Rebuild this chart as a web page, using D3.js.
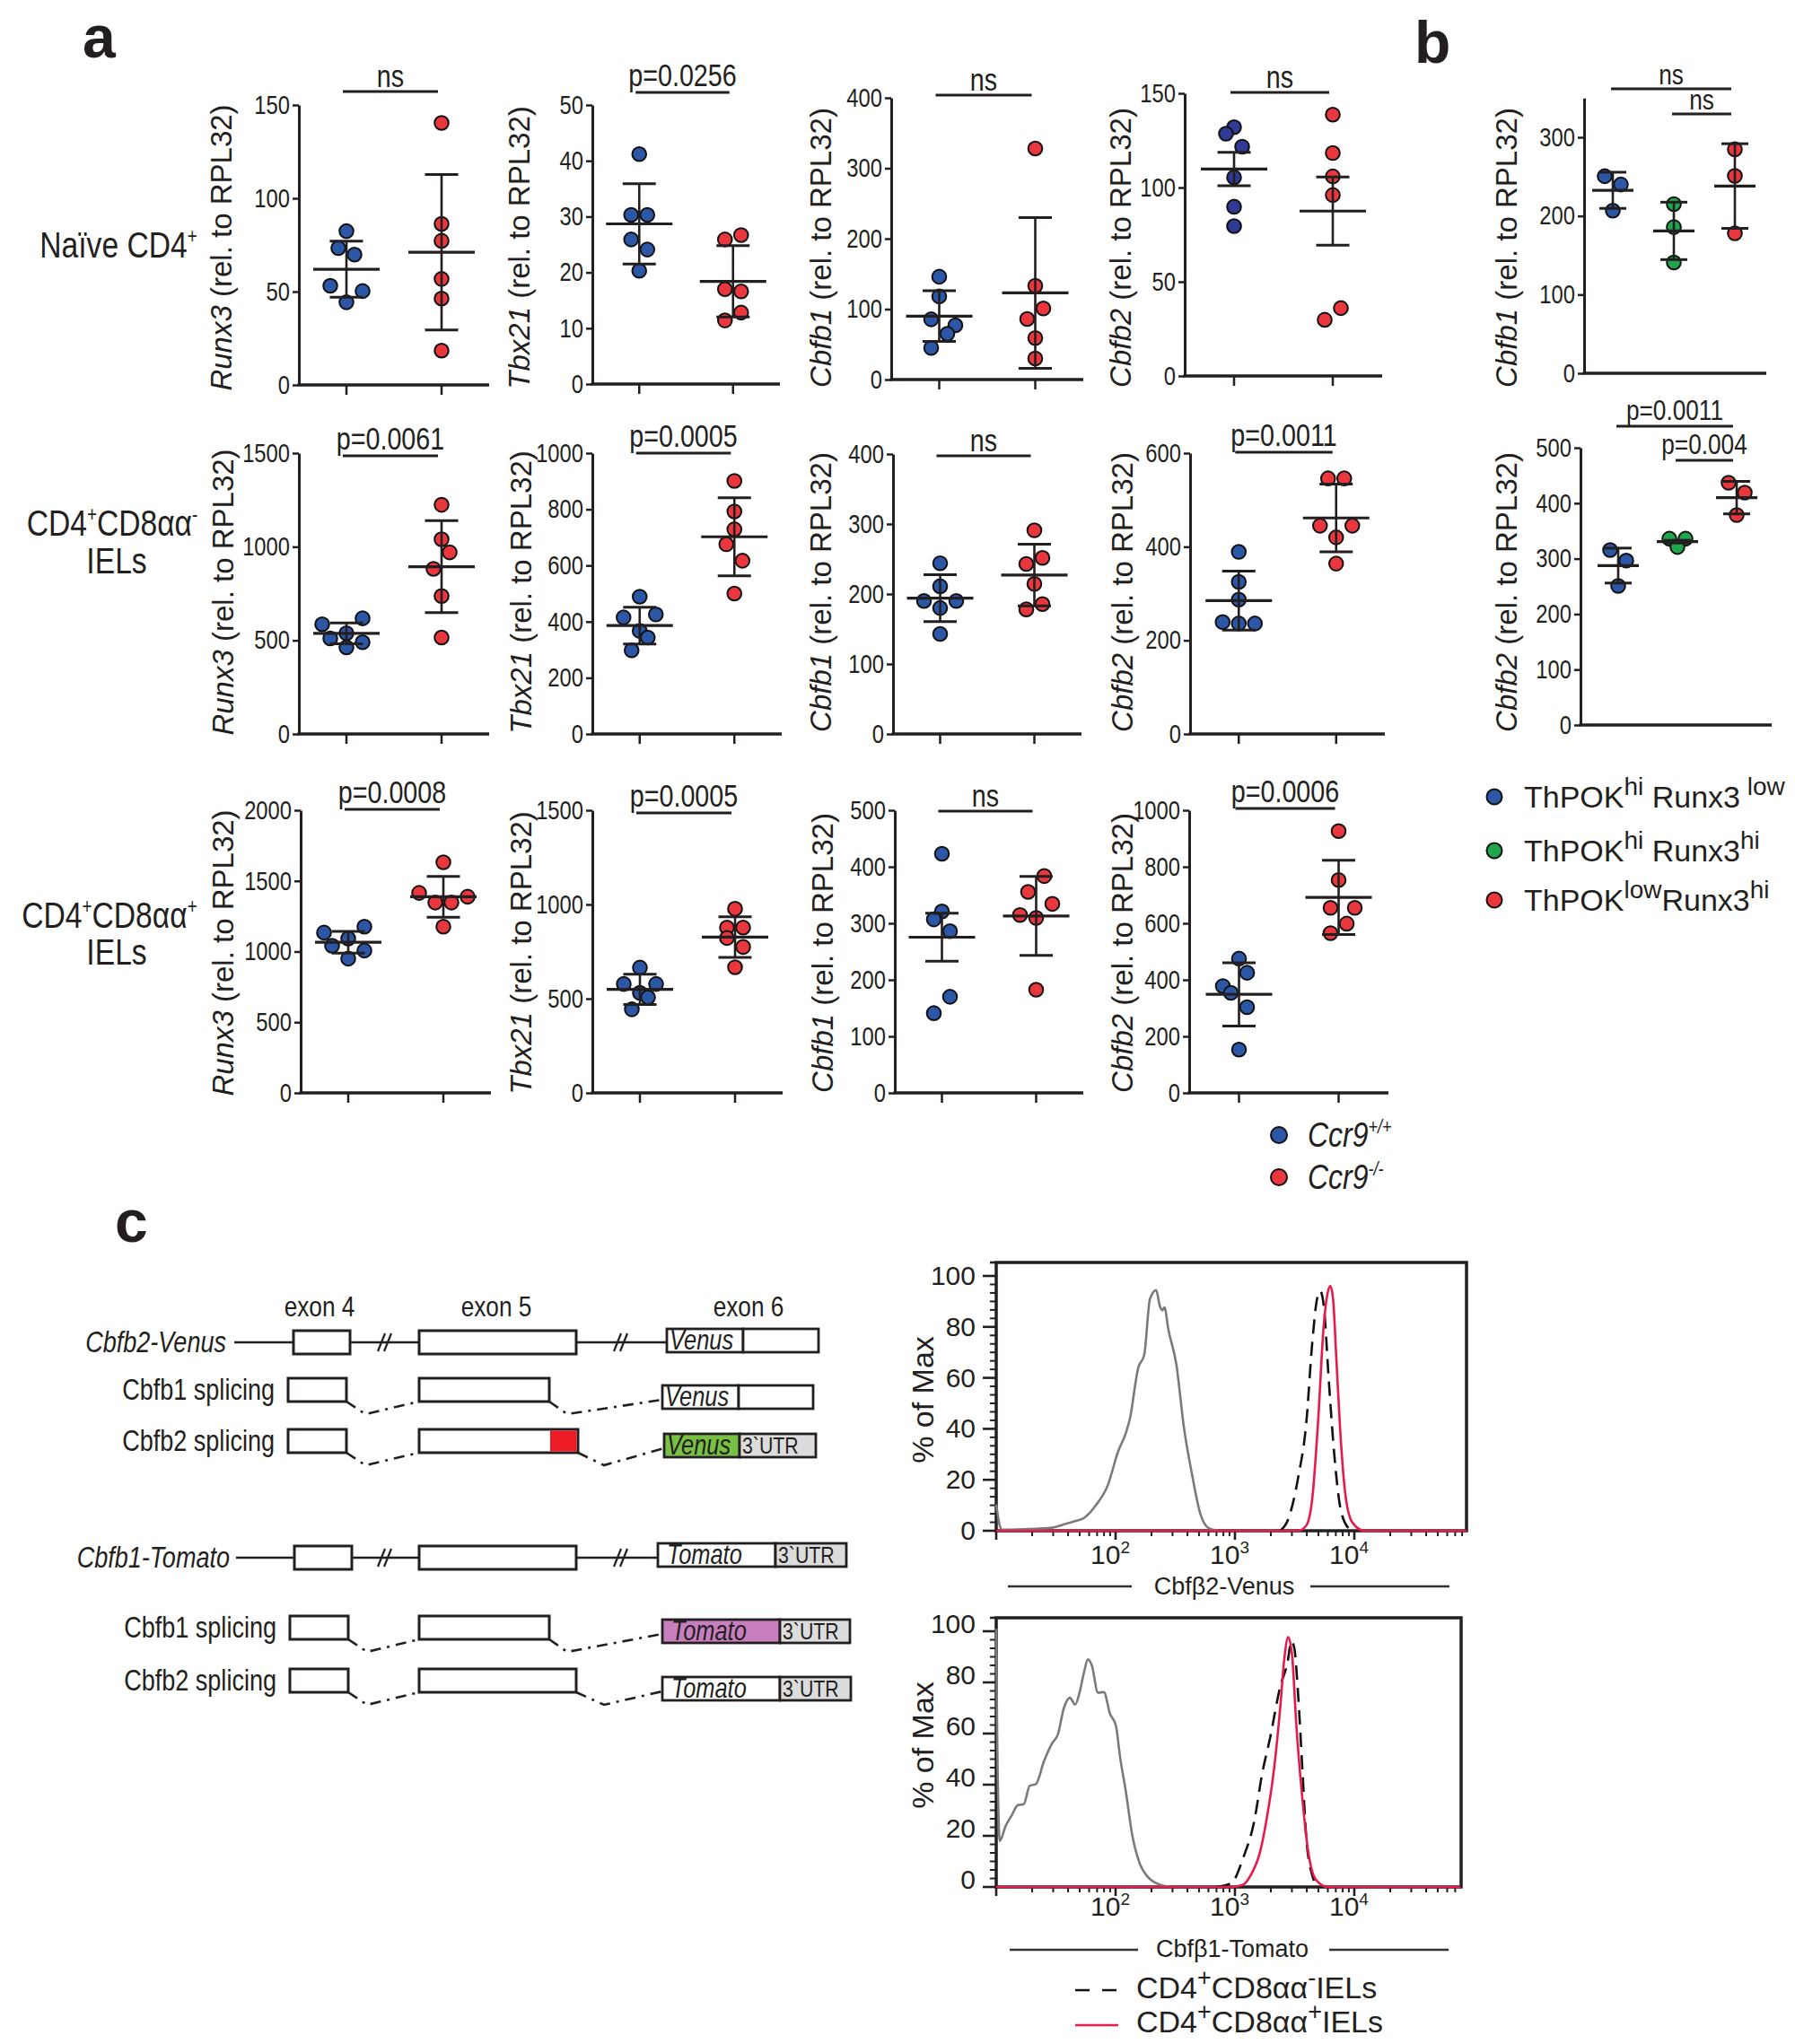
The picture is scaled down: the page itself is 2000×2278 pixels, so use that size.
<!DOCTYPE html>
<html><head><meta charset="utf-8">
<script src="https://cdn.jsdelivr.net/npm/d3@7"></script>
<style>body{margin:0;background:#fff}</style>
</head><body><div id="chart"></div>
<script>
// ================= DATA =================
// Panel a: qPCR, Ccr9+/+ (blue) vs Ccr9-/- (red); rows = cell types, cols = genes
const genes = ["Runx3", "Tbx21", "Cbfb1", "Cbfb2"];
const yMaxes = [[150, 50, 400, 150], [1500, 1000, 400, 600], [2000, 1500, 500, 1000]];
const tickSteps = [[50, 10, 100, 50], [500, 200, 100, 200], [500, 500, 100, 200]];
const pLabels = ["ns", "p=0.0256", "ns", "ns", "p=0.0061", "p=0.0005", "ns", "p=0.0011", "p=0.0008", "p=0.0005", "ns", "p=0.0006"];
const wtVals = [
  [82.4, 73.3, 69.8, 53.1, 50.3, 44.3], [41.2, 30.3, 30.3, 25.9, 24.1, 20.3], [146, 118, 85.5, 77, 65, 45], [132, 128.6, 121.7, 105.4, 89.8, 79.5],
  [617.5, 585.6, 537.7, 510.6, 490, 462.7], [489, 425.5, 415, 367, 343.6, 298], [244, 211, 190, 190, 180, 143], [389, 325, 287, 239, 236, 236],
  [1176, 1134, 1092, 1041, 1007, 950], [665, 578, 578, 530.6, 507, 443.5], [423, 321, 307, 286, 170, 141], [475, 425, 378, 354, 303, 153]
];
const koVals = [
  [140.4, 86.3, 77.2, 56.8, 46.3, 18.4], [26.7, 25.9, 17.0, 16.6, 12.8, 11.4], [328, 133, 101, 86, 59, 30], [138.7, 118.3, 105.9, 96, 36, 29.8],
  [1224, 1040, 970, 882, 737, 515], [901, 792.5, 728.7, 675.5, 617, 500], [291, 251.6, 243, 214.5, 185.5, 178], [546, 546, 445, 445, 420, 364],
  [1632, 1415, 1388, 1347, 1347, 1176], [977, 877.6, 877.6, 822, 774.6, 667], [383.6, 355.6, 334.4, 314.8, 309.5, 182.5], [926, 753, 654.7, 654.7, 598.7, 565]
];
const wtMean = [62.0, 28.7, 90, 109.8, 537.7, 386, 194, 285, 1066.5, 549.6, 275.4, 348.5];
const wtErr  = [15.0, 7.2, 36, 8.9, 55.8, 65.5, 33.5, 63, 77, 80, 42.4, 112];
const koMean = [71.1, 18.4, 123, 87.5, 893.6, 702, 227, 461.5, 1387.5, 826.9, 313, 691.7];
const koErr  = [41.6, 6.4, 107, 18.1, 246, 139, 44, 72.5, 145, 107.8, 69.8, 131];

// Panel b: Cbfb1 / Cbfb2 in three populations
const bGroups = ["ThPOKhi Runx3low", "ThPOKhi Runx3hi", "ThPOKlow Runx3hi"];
const bGenes = ["Cbfb1", "Cbfb2"];
const bMax = [350, 500];
const bTickMax = [300, 500];
const bVals = [
  [[250.5, 240, 206.7], [215, 185.8, 140.8], [284.7, 251, 178]],
  [[315.5, 296.6, 250.8], [336, 336, 321], [437, 419, 378.6]]
];
const bMean = [[232.6, 181, 238], [287.5, 330.6, 410]];
const bErr  = [[23, 36.5, 53.8], [31.5, 2.5, 29.3]];
const bPLabels = [["ns", "ns"], ["p=0.0011", "p=0.004"]];

// Panel c: flow histograms, [log10 intensity, % of max]
const flow1Grey = [[1.0,10.3],[1.03,2],[1.05,0.4],[1.23,0.6],[1.466,1.2],[1.583,2.7],[1.667,3.9],[1.735,5],[1.835,10],[1.936,18],[2.02,31],[2.087,38.5],[2.12,44],[2.19,64],[2.24,69],[2.288,91],[2.34,94.4],[2.372,88],[2.392,86.5],[2.41,87.7],[2.44,79.5],[2.51,65],[2.574,40],[2.641,22],[2.708,7],[2.775,1.2],[2.86,0]];
const flow1Neg = [[3.379,0],[3.446,4.5],[3.53,21],[3.597,42],[3.648,74],[3.688,91],[3.715,94],[3.748,86.5],[3.782,62],[3.832,30],[3.883,9],[3.95,1],[3.983,0]];
const flow1Pos = [[1.0,0],[3.53,0],[3.597,2],[3.648,12.7],[3.698,44],[3.742,79.5],[3.775,93],[3.799,96],[3.822,91],[3.849,68],[3.883,38.5],[3.923,15],[3.983,3.3],[4.084,0],[4.94,0]];
const flow2Grey = [[1.0,101],[1.008,60],[1.03,18],[1.08,24],[1.13,28],[1.181,32],[1.231,32.4],[1.281,39.6],[1.332,40.2],[1.399,49],[1.466,56],[1.516,59.6],[1.567,70],[1.617,74],[1.661,71.3],[1.701,76.6],[1.734,83.6],[1.768,89],[1.802,86.5],[1.852,76],[1.902,76.2],[1.953,67.8],[2.003,63],[2.037,51],[2.087,37],[2.137,21],[2.204,9],[2.271,3.9],[2.372,0.9],[2.473,0]];
const flow2Neg = [[2.842,0],[2.97,1.5],[3.07,11.5],[3.161,25.6],[3.228,44.3],[3.295,58.4],[3.379,78.3],[3.44,87.7],[3.473,96.1],[3.497,93.5],[3.53,74.8],[3.564,46.7],[3.597,19.7],[3.648,4.5],[3.698,0]];
const flow2Pos = [[1.0,0],[2.97,0],[3.07,0.9],[3.131,4.5],[3.211,13.8],[3.262,25.6],[3.329,46.7],[3.379,70],[3.413,88.9],[3.446,97.7],[3.48,90],[3.513,64.2],[3.564,35],[3.614,13.8],[3.681,2.7],[3.782,0],[4.89,0]];
const flowYTicks = [0, 20, 40, 60, 80, 100];
const flowXTickExp = [2, 3, 4];
const flowTitles = ["Cbfβ2-Venus", "Cbfβ1-Tomato"];
const exonLabels = ["exon 4", "exon 5", "exon 6"];

// ================= LAYOUT / STYLE =================
const SANS = "'Liberation Sans',Arial,Helvetica,sans-serif";
const SX = 0.82; // horizontal squeeze to imitate a condensed face
const INK = "#231f20";
const BLUE = "#2c56a6", RED = "#e9373d", GREEN = "#1ea64d";
// point jitter slots (layout only)
const wtSlot = [[0,-1,1,-2,2,0],[0,-1,1,-1,1,0],[0,0,-1,2,1,-1],[0,-1,1,0,0,0],
                [2,-3,0,-2,2,0],[0,2,-2,0,1,-1],[0,0,-2,2,0,0],[0,0,0,-2,0,2],
                [2,-3,0,-2,2,0],[0,-2,2,0,1,-1],[0,0,-1,1,1,-1],[0,1,-2,-1,1,0]];
const koSlot = [[0,0,0,0,0,0],[1,-1,-1,1,1,-1],[0,0,1,-1,0,0],[0,0,0,0,1,-1],
                [0,0,1,-1,0,0],[0,0,0,-1,1,0],[0,1,-1,0,1,-1],[-1,1,-2,2,0,0],
                [0,-3,3,-1,1,0],[0,-1,1,-1,1,0],[1,-1,2,-2,0,0],[0,0,-1,2,1,-1]];
const bSlot = [[[-1,1,0],[0,0,0],[0,0,0]],[[-1,1,0],[-1,1,0],[-1,1,0]]];
// [axisX, axisEndX, yTopOfMaxTick, yZero, titleX, bracketY]
const aFrames = [
  [333,545,117,429,258,102],[660,869,117,428,590,103],[993,1207,109,423,926,106],[1320,1540,104,419,1260,103],
  [333,545,505,818,260,508],[660,871,505,818,592,505],[995,1205,506,818,926,508],[1326,1543,505,818,1262,504],
  [335,547,903,1218,260,902],[660,872,903,1218,592,906],[997,1207,903,1218,928,904],[1325,1547,903,1218,1262,901]
];
const rowTitleY = [276, 660, 1062];

const W = 2000, H = 2278;
const svg = d3.select("#chart").append("svg").attr("width", W).attr("height", H)
  .style("font-family", SANS);
svg.append("rect").attr("width", W).attr("height", H).attr("fill", "#fff");

// condensed text helper
function ntext(parent, x, y, fs, anchor) {
  return parent.append("text").attr("transform", `translate(${x},${y}) scale(${SX},1)`)
    .attr("font-size", fs).attr("fill", INK).attr("text-anchor", anchor || "start").attr("font-family", SANS);
}
function addParts(t, parts, fs, supFs) {
  let shifted = false;
  parts.forEach(([s, sup]) => {
    const ts = t.append("tspan").text(s);
    if (sup && !shifted) { ts.attr("font-size", supFs).attr("dy", -fs * 0.4); shifted = true; }
    else if (!sup && shifted) { ts.attr("dy", fs * 0.4); shifted = false; }
    else if (sup) ts.attr("font-size", supFs);
  });
  return t;
}

// panel letters
[["a", 92, 64], ["b", 1576, 70], ["c", 128, 1384]].forEach(([t, x, y]) =>
  svg.append("text").attr("x", x).attr("y", y).attr("font-size", 66).attr("font-weight", "bold")
    .attr("fill", INK).text(t));

function styleAxis(sel, fs, off) {
  sel.select(".domain").attr("stroke", INK).attr("stroke-width", 3);
  sel.selectAll(".tick line").attr("stroke", INK).attr("stroke-width", 2.5);
  sel.selectAll(".tick text").attr("fill", INK).attr("font-family", SANS).attr("font-size", fs)
    .attr("transform", `scale(${SX},1)`).attr("x", -off / SX);
}

function yTitle(g, x, yc, gene) {
  const t = g.append("text").attr("transform", `translate(${x},${yc}) rotate(-90)`)
    .attr("text-anchor", "middle").attr("font-size", 33).attr("fill", INK).attr("font-family", SANS);
  t.append("tspan").attr("font-style", "italic").text(gene);
  t.append("tspan").text(" (rel. to RPL32)");
}

function bracket(g, x1, x2, yL, label, fs) {
  g.append("line").attr("x1", x1).attr("x2", x2).attr("y1", yL).attr("y2", yL)
    .attr("stroke", INK).attr("stroke-width", 3);
  ntext(g, (x1 + x2) / 2, yL - (label === "ns" ? 5 : 7), fs || 35, "middle").text(label);
}

function meanSd(g, cx, m, e, y, wm, wc) {
  g.append("line").attr("x1", cx).attr("x2", cx).attr("y1", y(m - e)).attr("y2", y(m + e))
    .attr("stroke", INK).attr("stroke-width", 2.6);
  [m - e, m + e].forEach(v => g.append("line").attr("x1", cx - wc).attr("x2", cx + wc)
    .attr("y1", y(v)).attr("y2", y(v)).attr("stroke", INK).attr("stroke-width", 3));
  g.append("line").attr("x1", cx - wm).attr("x2", cx + wm).attr("y1", y(m)).attr("y2", y(m))
    .attr("stroke", INK).attr("stroke-width", 3.2);
}

function dots(g, cx, vals, slots, y, color) {
  g.selectAll(null).data(vals).join("circle")
    .attr("cx", (d, i) => cx + slots[i] * 9).attr("cy", d => y(d)).attr("r", 7.8)
    .attr("fill", color).attr("stroke", "#111").attr("stroke-width", 2);
}

// ---------- Panel a ----------
for (let i = 0; i < 12; i++) {
  const row = Math.floor(i / 4), col = i % 4;
  const [ax, ex, yT, y0, tx, by] = aFrames[i];
  const max = yMaxes[row][col], step = tickSteps[row][col];
  const g = svg.append("g");
  const y = d3.scaleLinear().domain([0, max]).range([y0, yT]);
  const x = d3.scalePoint().domain(["wt", "ko"]).range([ax, ex]).padding(0.5);
  const yA = g.append("g").attr("transform", `translate(${ax},0)`)
    .call(d3.axisLeft(y).tickValues(d3.range(0, max + 1e-9, step)).tickFormat(d3.format("d"))
      .tickSize(7).tickSizeOuter(0).tickPadding(3));
  styleAxis(yA, 29, 10);
  g.append("line").attr("x1", ax - 1.5).attr("x2", ex).attr("y1", y0).attr("y2", y0)
    .attr("stroke", INK).attr("stroke-width", 3.5);
  x.domain().forEach(k => g.append("line").attr("x1", x(k)).attr("x2", x(k)).attr("y1", y0)
    .attr("y2", y0 + 11).attr("stroke", INK).attr("stroke-width", 2.5));
  dots(g, x("wt"), wtVals[i], wtSlot[i], y, col === 3 && row === 0 ? "#2e3a94" : BLUE);
  dots(g, x("ko"), koVals[i], koSlot[i], y, RED);
  meanSd(g, x("wt"), wtMean[i], wtErr[i], y, 37, 18.5);
  meanSd(g, x("ko"), koMean[i], koErr[i], y, 37, 18.5);
  bracket(g, x("wt") - 4, x("ko") - 4, by, pLabels[i]);
  yTitle(g, tx, rowTitleY[row], genes[col]);
}

// row labels
addParts(ntext(svg, 132, 287, 41, "middle"), [["Naïve CD4"], ["+", 1]], 41, 23);
addParts(ntext(svg, 125, 597, 41, "middle"), [["CD4"], ["+", 1], ["CD8αα"], ["-", 1]], 41, 23);
addParts(ntext(svg, 130, 639, 41, "middle"), [["IELs"]], 41, 23);
addParts(ntext(svg, 122, 1034, 41, "middle"), [["CD4"], ["+", 1], ["CD8αα"], ["+", 1]], 41, 23);
addParts(ntext(svg, 130, 1075, 41, "middle"), [["IELs"]], 41, 23);

// Ccr9 legend
[[BLUE, 1265, "+/+"], [RED, 1312, "-/-"]].forEach(([c, yy, s]) => {
  svg.append("circle").attr("cx", 1425).attr("cy", yy).attr("r", 9).attr("fill", c)
    .attr("stroke", "#111").attr("stroke-width", 2);
  const t = ntext(svg, 1457, yy + 13, 39).attr("font-style", "italic");
  t.append("tspan").text("Ccr9");
  t.append("tspan").attr("font-size", 22).attr("dy", -15).text(s);
});

// ---------- Panel b ----------
const bFrames = [[1765, 1968, 416, 1690, 276, [1797, 1933]], [1761, 1974, 808, 1690, 660, [1803, 1935]]];
const bYScale = [[416, 153, 300], [808, 499, 500]]; // y0, y(ref), ref
const bColors = [BLUE, GREEN, RED];
const bBrackets = [[[0, 2, 99], [1, 2, 127]], [[0, 2, 475], [1, 2, 513]]];
bGenes.forEach((gene, k) => {
  const [ax, ex, y0, tx, tyc, xr] = bFrames[k];
  const [yz, yr, ref] = bYScale[k];
  const g = svg.append("g");
  const y = d3.scaleLinear().domain([0, ref]).range([yz, yr]);
  const yTop = y(bMax[k]);
  y.domain([0, bMax[k]]).range([yz, yTop]);
  const x = d3.scalePoint().domain(bGroups).range(xr);
  const yA = g.append("g").attr("transform", `translate(${ax},0)`)
    .call(d3.axisLeft(y).tickValues(d3.range(0, bTickMax[k] + 1, 100)).tickFormat(d3.format("d"))
      .tickSize(7).tickSizeOuter(0).tickPadding(3));
  styleAxis(yA, 29, 10);
  g.append("line").attr("x1", ax - 1.5).attr("x2", ex).attr("y1", yz).attr("y2", yz)
    .attr("stroke", INK).attr("stroke-width", 3.5);
  bGroups.forEach((grp, j) => dots(g, x(grp), bVals[k][j], bSlot[k][j], y, bColors[j]));
  bGroups.forEach((grp, j) => meanSd(g, x(grp), bMean[k][j], bErr[k][j], y, 23, 15));
  bBrackets[k].forEach(([a, b, yl], n) => bracket(g, x(bGroups[a]) - 2, x(bGroups[b]) - 4, yl, bPLabels[k][n], 32));
  yTitle(g, tx, tyc, gene);
});
// panel b legend
const bLegParts = [
  [["ThPOK"], ["hi", 1], [" Runx3"], [" low", 1]],
  [["ThPOK"], ["hi", 1], [" Runx3"], ["hi", 1]],
  [["ThPOK"], ["low", 1], ["Runx3"], ["hi", 1]]
];
[888, 948, 1003].forEach((yy, j) => {
  svg.append("circle").attr("cx", 1665).attr("cy", yy).attr("r", 8.5).attr("fill", bColors[j])
    .attr("stroke", "#111").attr("stroke-width", 2);
  const t = svg.append("text").attr("x", 1698).attr("y", yy + 12).attr("font-size", 34).attr("fill", INK);
  addParts(t, bLegParts[j], 34, 28);
});

// ---------- Panel c: schematic ----------
const cG = svg.append("g");
exonLabels.forEach((t, i) => ntext(cG, [356, 553, 834][i], 1467, 32, "middle").text(t));
const schem = [
  {label: "Cbfb2-Venus", ital: true, con: true, yc: 1496, ex4: [327, 390], ex5: [467, 642], e6: [743, 912, 1494], split: 828, rep: "Venus", repFill: "#fff", utr: false, lx: 252, lineStart: 261},
  {label: "Cbfb1 splicing", yc: 1549, ex4: [321, 386], ex5: [467, 612], e6: [738, 906, 1557], split: 823, rep: "Venus", repFill: "#fff", utr: false, lx: 306, dx2: 20},
  {label: "Cbfb2 splicing", yc: 1606, ex4: [321, 386], ex5: [467, 644], red: 613, e6: [740, 909, 1611], split: 824, rep: "Venus", repFill: "#78c043", utr: true, lx: 306, dx2: 29},
  {label: "Cbfb1-Tomato", ital: true, con: true, yc: 1736, ex4: [328, 392], ex5: [467, 642], e6: [733, 943, 1733], split: 864, rep: "Tomato", repFill: "#fff", utr: true, lx: 256, lineStart: 263},
  {label: "Cbfb1 splicing", yc: 1814, ex4: [323, 388], ex5: [467, 612], e6: [738, 947, 1818], split: 869, rep: "Tomato", repFill: "#c97fbf", utr: true, lx: 308, dx2: 20},
  {label: "Cbfb2 splicing", yc: 1873, ex4: [323, 388], ex5: [467, 642], e6: [738, 948, 1882], split: 869, rep: "Tomato", repFill: "#fff", utr: true, lx: 308, dx2: 31}
];
const BH = 13;
schem.forEach(r => {
  ntext(cG, r.lx, r.yc + 11, 33, "end").attr("font-style", r.ital ? "italic" : "normal").text(r.label);
  if (r.con) {
    cG.append("line").attr("x1", r.lineStart).attr("x2", r.e6[0]).attr("y1", r.yc).attr("y2", r.yc)
      .attr("stroke", INK).attr("stroke-width", 2.5);
    [429, 692].forEach(bx => [-4, 3].forEach(o => cG.append("line")
      .attr("x1", bx + o - 4).attr("y1", r.yc + 10).attr("x2", bx + o + 4).attr("y2", r.yc - 10)
      .attr("stroke", INK).attr("stroke-width", 2.2)));
  } else {
    const yb = r.yc + BH;
    const p1 = [[r.ex4[1], yb], [r.ex4[1] + 21, yb + 14], [r.ex5[0], yb]];
    const p2 = [[r.ex5[1], yb], [r.ex5[1] + r.dx2, yb + 14], [r.e6[0], r.e6[2] + 3]];
    [p1, p2].forEach(p => cG.append("path").attr("d", d3.line()(p)).attr("fill", "none")
      .attr("stroke", INK).attr("stroke-width", 2.6).attr("stroke-dasharray", "12,7,3,7"));
  }
  [r.ex4, r.ex5].forEach(e => cG.append("rect").attr("x", e[0]).attr("y", r.yc - BH)
    .attr("width", e[1] - e[0]).attr("height", 2 * BH).attr("fill", "#fff").attr("stroke", INK).attr("stroke-width", 3));
  if (r.red) cG.append("rect").attr("x", r.red).attr("y", r.yc - BH + 1.5).attr("width", r.ex5[1] - r.red - 1.5)
    .attr("height", 2 * BH - 3).attr("fill", "#ed1c24");
  const [l6, rr6, c6] = r.e6;
  cG.append("rect").attr("x", l6).attr("y", c6 - BH).attr("width", r.split - l6).attr("height", 2 * BH)
    .attr("fill", r.repFill).attr("stroke", INK).attr("stroke-width", 2.8);
  cG.append("rect").attr("x", r.split).attr("y", c6 - BH).attr("width", rr6 - r.split).attr("height", 2 * BH)
    .attr("fill", r.utr ? "#dcdcdc" : "#fff").attr("stroke", INK).attr("stroke-width", 2.8);
  ntext(cG, l6 + (r.rep === "Tomato" ? 10 : 3), c6 + 10, 31).attr("font-style", "italic").text(r.rep);
  if (r.utr) ntext(cG, r.split + 3, c6 + 9, 26).text("3`UTR");
});

// ---------- Panel c: flow histograms ----------
const flowFrames = [
  {x0: 1110, x1: 1634, yTop: 1407, y0: 1706, y100: 1422, xMaxExp: 4.94, labDy: 0, tickLabY: 1743, titleY: 1777, lineY: 1768, titleX: 1364, lines: [[1123, 1261], [1460, 1615]], maxLabelY: 1560},
  {x0: 1110, x1: 1628, yTop: 1803, y0: 2103, y100: 1818, xMaxExp: 4.895, labDy: -8, tickLabY: 2135, titleY: 2181, lineY: 2173, titleX: 1373, lines: [[1125, 1268], [1481, 1614]], maxLabelY: 1945}
];
const flowSeries = [[flow1Grey, flow1Neg, flow1Pos], [flow2Grey, flow2Neg, flow2Pos]];
flowFrames.forEach((f, k) => {
  const g = svg.append("g");
  const x = d3.scaleLog().domain([10, Math.pow(10, f.xMaxExp)]).range([f.x0, f.x1]);
  const y = d3.scaleLinear().domain([0, 100]).range([f.y0, f.y100]);
  const minor = d3.range(0, 100.01, 20 / 6).filter(v => Math.abs(v / 20 - Math.round(v / 20)) > 0.01);
  minor.forEach(v => g.append("line").attr("x1", f.x0 - 7).attr("x2", f.x0).attr("y1", y(v)).attr("y2", y(v))
    .attr("stroke", INK).attr("stroke-width", 2));
  flowYTicks.forEach(v => {
    g.append("line").attr("x1", f.x0 - 15).attr("x2", f.x0).attr("y1", y(v)).attr("y2", y(v))
      .attr("stroke", INK).attr("stroke-width", 2.6);
    g.append("text").attr("x", f.x0 - 23).attr("y", y(v) + 10 + f.labDy).attr("text-anchor", "end")
      .attr("font-size", 30).attr("fill", INK).text(v);
  });
  g.append("line").attr("x1", f.x0 - 7).attr("x2", f.x0).attr("y1", f.yTop).attr("y2", f.yTop)
    .attr("stroke", INK).attr("stroke-width", 2.6);
  for (let e = 1; e <= 4; e++) {
    for (let m = 1; m <= 9; m++) {
      const v = m * Math.pow(10, e);
      if (v > x.domain()[1]) continue;
      g.append("line").attr("x1", x(v)).attr("x2", x(v)).attr("y1", f.y0).attr("y2", f.y0 + (m === 1 ? 10 : 6))
        .attr("stroke", INK).attr("stroke-width", m === 1 ? 2.6 : 2);
    }
  }
  flowXTickExp.forEach(e => {
    const t = g.append("text").attr("x", x(Math.pow(10, e)) - 6).attr("y", f.tickLabY)
      .attr("text-anchor", "middle").attr("font-size", 30).attr("fill", INK);
    t.append("tspan").text("10");
    t.append("tspan").attr("font-size", 19).attr("dy", -12).text(e);
  });
  g.append("rect").attr("x", f.x0).attr("y", f.yTop).attr("width", f.x1 - f.x0).attr("height", f.y0 - f.yTop)
    .attr("fill", "none").attr("stroke", INK).attr("stroke-width", 3.5);
  const line = d3.line().x(d => x(Math.pow(10, d[0]))).y(d => y(d[1])).curve(d3.curveMonotoneX);
  const [gr, ng, ps] = flowSeries[k];
  g.append("path").attr("d", line(gr)).attr("fill", "none").attr("stroke", "#7a7a7a").attr("stroke-width", 2.6);
  g.append("path").attr("d", line(ng)).attr("fill", "none").attr("stroke", "#111").attr("stroke-width", 2.6)
    .attr("stroke-dasharray", "16,9");
  g.append("path").attr("d", line(ps)).attr("fill", "none").attr("stroke", "#e8194b").attr("stroke-width", 2.6);
  g.append("text").attr("x", f.titleX).attr("y", f.titleY).attr("text-anchor", "middle")
    .attr("font-size", 27).attr("fill", INK).text(flowTitles[k]);
  f.lines.forEach(([a, b]) => g.append("line").attr("x1", a).attr("x2", b).attr("y1", f.lineY).attr("y2", f.lineY)
    .attr("stroke", "#333").attr("stroke-width", 2.5));
  g.append("text").attr("transform", `translate(1040,${f.maxLabelY}) rotate(-90)`).attr("text-anchor", "middle")
    .attr("font-size", 34).attr("fill", INK).text("% of Max");
});
// flow legend
const g2 = svg.append("g");
g2.append("line").attr("x1", 1198).attr("x2", 1246).attr("y1", 2218).attr("y2", 2218)
  .attr("stroke", "#111").attr("stroke-width", 2.6).attr("stroke-dasharray", "16,14");
g2.append("line").attr("x1", 1198).attr("x2", 1246).attr("y1", 2257).attr("y2", 2257)
  .attr("stroke", "#e8194b").attr("stroke-width", 2.6);
addParts(svg.append("text").attr("x", 1266).attr("y", 2227).attr("font-size", 34).attr("fill", INK),
  [["CD4"], ["+", 1], ["CD8αα"], ["-", 1], ["IELs"]], 34, 27);
addParts(svg.append("text").attr("x", 1266).attr("y", 2265).attr("font-size", 34).attr("fill", INK),
  [["CD4"], ["+", 1], ["CD8αα"], ["+", 1], ["IELs"]], 34, 27);
</script>
</body></html>
